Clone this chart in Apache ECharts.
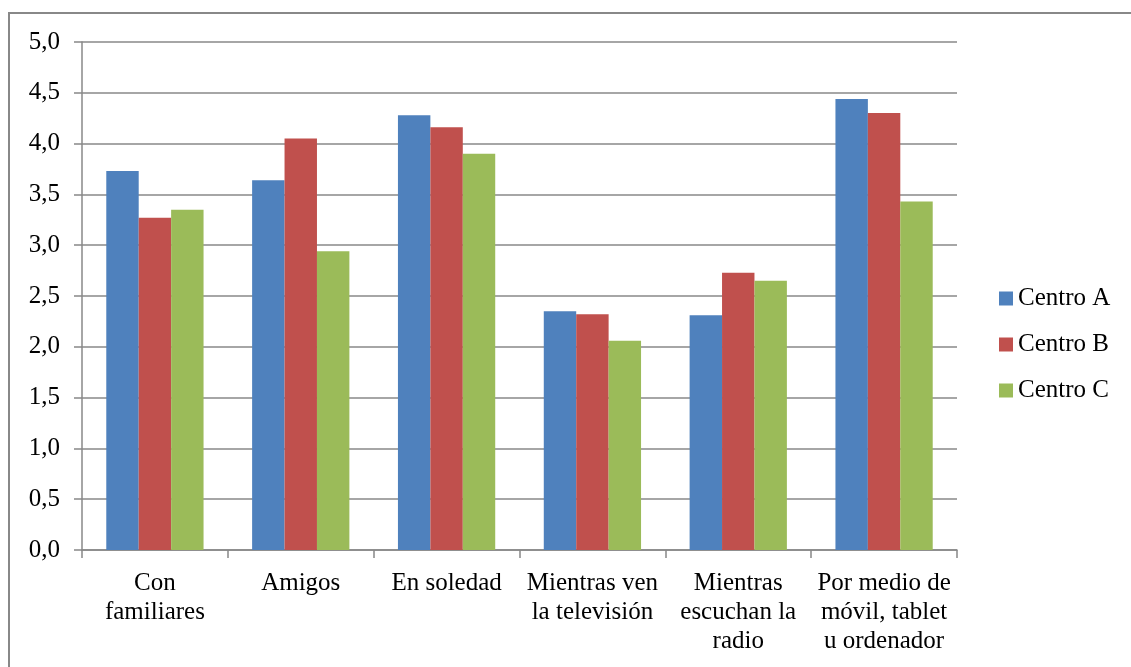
<!DOCTYPE html>
<html>
<head>
<meta charset="utf-8">
<script src="https://cdn.jsdelivr.net/npm/echarts@6/dist/echarts.min.js"></script>
<style>
html,body{margin:0;padding:0;background:#fff;}
#chart{width:1131px;height:667px;}
</style>
</head>
<body>
<div id="chart"></div>
<script>
const categories = ['Con\nfamiliares', 'Amigos', 'En soledad', 'Mientras ven\nla televisión', 'Mientras\nescuchan la\nradio', 'Por medio de\nmóvil, tablet\nu ordenador'];
const seriesNames = ['Centro A', 'Centro B', 'Centro C'];
const centroA = [3.73, 3.64, 4.28, 2.35, 2.31, 4.44];
const centroB = [3.27, 4.05, 4.16, 2.32, 2.73, 4.30];
const centroC = [3.35, 2.94, 3.90, 2.06, 2.65, 3.43];
const colors = ['#4F81BD', '#C0504D', '#9BBB59'];

const chart = echarts.init(document.getElementById('chart'), null, {renderer: 'canvas'});
const font = '"Liberation Serif", "Times New Roman", serif';
const values = [centroA, centroB, centroC];

chart.setOption({
  animation: false,
  backgroundColor: '#fff',
  textStyle: {fontFamily: font},
  graphic: [{
    type: 'rect',
    shape: {x: 9, y: 13, width: 1140, height: 700},
    style: {fill: 'none', stroke: '#888', lineWidth: 2},
    z: -1
  }],
  grid: {left: 82, top: 42, right: 174, bottom: 117, containLabel: false},
  legend: {
    orient: 'vertical',
    left: 994,
    top: 281,
    itemWidth: 14,
    itemHeight: 14,
    itemGap: 21,
    icon: 'rect',
    data: seriesNames,
    textStyle: {fontFamily: font, fontSize: 25, color: '#000', lineHeight: 25, padding: [0, 0, 0, 0]}
  },
  xAxis: {
    type: 'category',
    data: categories,
    axisLine: {lineStyle: {color: '#888', width: 1.5}},
    axisTick: {show: true, length: 8, inside: false, alignWithLabel: false, lineStyle: {color: '#888', width: 1.5}},
    axisLabel: {fontFamily: font, fontSize: 25, color: '#000', lineHeight: 29, margin: 19, interval: 0}
  },
  yAxis: {
    type: 'value',
    min: 0,
    max: 5,
    interval: 0.5,
    axisLine: {show: true, lineStyle: {color: '#888', width: 1.5}},
    axisTick: {show: true, length: 8, lineStyle: {color: '#888', width: 1.5}},
    splitLine: {lineStyle: {color: '#888', width: 1.5}},
    axisLabel: {
      fontFamily: font, fontSize: 25, color: '#000', margin: 22,
      formatter: v => v.toFixed(1).replace('.', ',')
    }
  },
  series: seriesNames.map((n, i) => ({
    name: n,
    type: 'bar',
    data: values[i],
    barGap: '0%',
    barCategoryGap: '33.3%',
    itemStyle: {color: colors[i]}
  }))
});
</script>
</body>
</html>
